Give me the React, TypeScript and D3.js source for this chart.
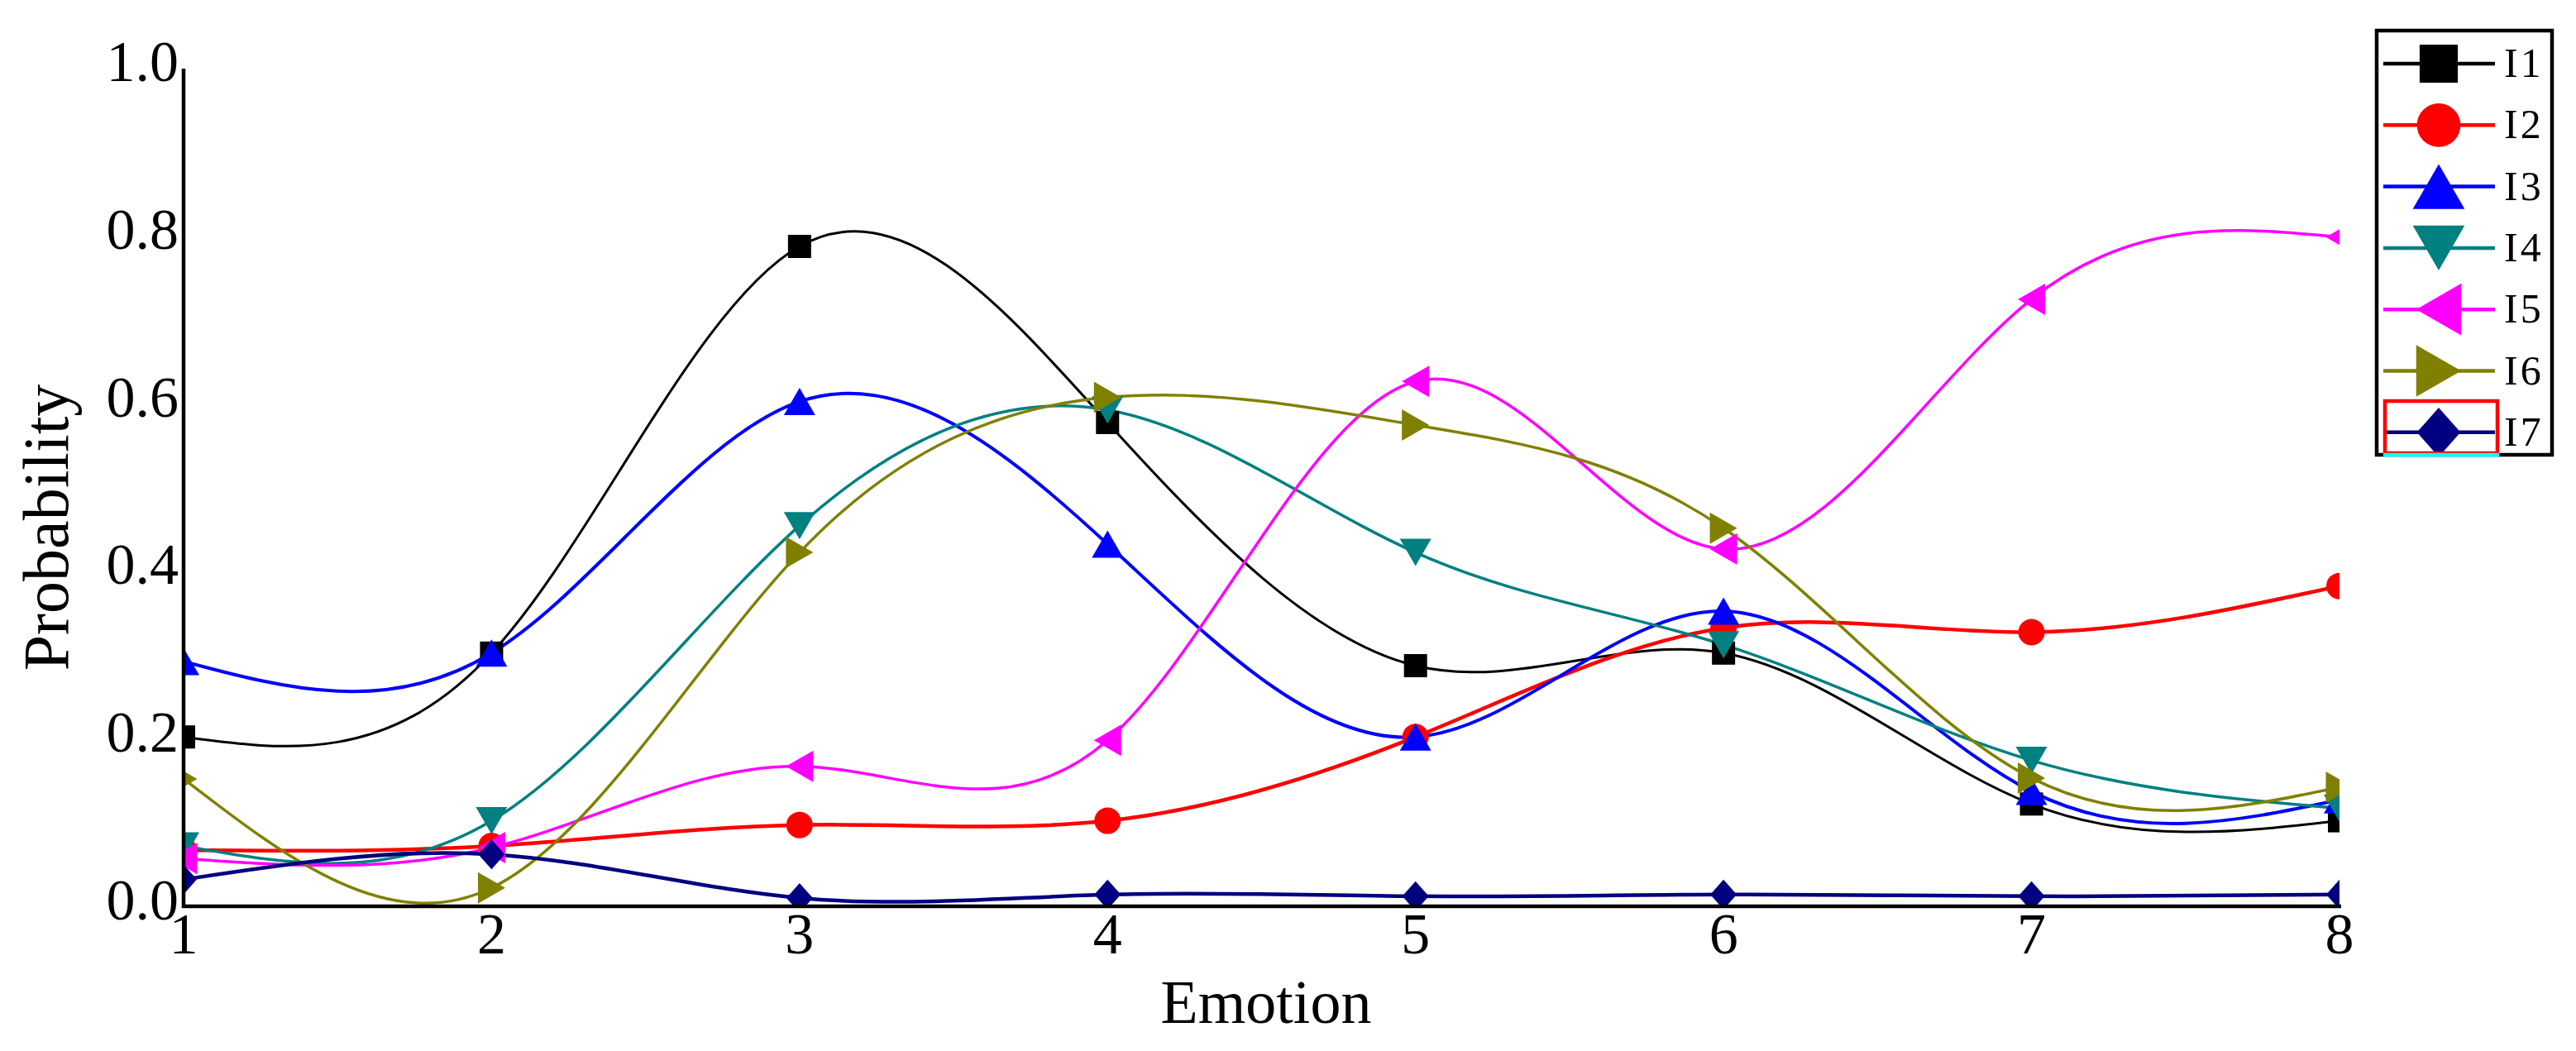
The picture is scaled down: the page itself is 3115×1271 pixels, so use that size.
import * as d3 from 'd3';
import React, { useRef, useEffect } from 'react';

// emotion index on the x axis
const emotions = [1, 2, 3, 4, 5, 6, 7, 8];
const yTicks = [0, 0.2, 0.4, 0.6, 0.8, 1.0];

const seriesNames = ['I1', 'I2', 'I3', 'I4', 'I5', 'I6', 'I7'];
const I1 = [0.20, 0.30, 0.785, 0.575, 0.285, 0.30, 0.12, 0.10];
const I2 = [0.065, 0.07, 0.095, 0.10, 0.20, 0.33, 0.325, 0.38];
const I3 = [0.29, 0.30, 0.60, 0.43, 0.20, 0.35, 0.135, 0.125];
const I4 = [0.07, 0.10, 0.452, 0.59, 0.42, 0.31, 0.172, 0.115];
const I5 = [0.055, 0.068, 0.165, 0.196, 0.624, 0.424, 0.722, 0.796];
const I6 = [0.15, 0.02, 0.42, 0.605, 0.572, 0.449, 0.151, 0.14];
const I7 = [0.03, 0.06, 0.008, 0.012, 0.01, 0.012, 0.01, 0.012];

const colors = ['#000000', '#ff0000', '#0000ff', '#008080', '#ff00ff', '#808000', '#000080'];
const shapes = ['square', 'circle', 'up', 'down', 'left', 'right', 'diamond'];
const widths = [3, 4.5, 4, 3.5, 3.5, 3.5, 4.5];

function markerPath(shape, k) {
    if (shape === 'square') {
        const s = 14 * k;
        return `M${-s},${-s}H${s}V${s}H${-s}Z`;
    }
    if (shape === 'circle') {
        const r = 16 * k;
        return `M${-r},0A${r},${r} 0 1,0 ${r},0A${r},${r} 0 1,0 ${-r},0Z`;
    }
    if (shape === 'diamond') {
        const w = 16 * k, h = 18 * k;
        return `M0,${-h}L${w},0L0,${h}L${-w},0Z`;
    }
    const w = 19 * k, h = 16.5 * k;
    if (shape === 'up') return `M0,${-h}L${w},${h}L${-w},${h}Z`;
    if (shape === 'down') return `M0,${h}L${w},${-h}L${-w},${-h}Z`;
    if (shape === 'left') return `M${-h},0L${h},${-w}L${h},${w}Z`;
    return `M${h},0L${-h},${-w}L${-h},${w}Z`;
}

function Chart({ width, height }) {
    const ref = useRef();

    useEffect(() => {
        const svg = d3.select(ref.current);
        svg.selectAll('*').remove();

        const data = [I1, I2, I3, I4, I5, I6, I7];
        const left = 222, right = 2829, top = 80, bottom = 1094;

        const x = d3.scaleLinear().domain([1, 8]).range([left, right]);
        const y = d3.scaleLinear().domain([0, 1]).range([bottom, top]);

        svg.append('rect').attr('width', width).attr('height', height).attr('fill', 'white');

        svg.append('defs').append('clipPath').attr('id', 'plotclip')
            .append('rect')
            .attr('x', left).attr('y', top - 40)
            .attr('width', right - left).attr('height', bottom - top + 40);

        const plot = svg.append('g').attr('clip-path', 'url(#plotclip)');

        const line = d3.line()
            .x((d, i) => x(emotions[i]))
            .y(d => y(d))
            .curve(d3.curveNatural);

        data.forEach((vals, si) => {
            plot.append('path')
                .attr('d', line(vals))
                .attr('fill', 'none')
                .attr('stroke', colors[si])
                .attr('stroke-width', widths[si]);
        });

        data.forEach((vals, si) => {
            plot.selectAll(null)
                .data(vals)
                .enter()
                .append('path')
                .attr('transform', (d, i) => `translate(${x(emotions[i])},${y(d)})`)
                .attr('d', markerPath(shapes[si], 1))
                .attr('fill', colors[si]);
        });

        // axes
        svg.append('line')
            .attr('x1', left).attr('x2', left)
            .attr('y1', top + 3).attr('y2', bottom + 4)
            .attr('stroke', 'black').attr('stroke-width', 4.5);
        svg.append('line')
            .attr('x1', left - 2).attr('x2', right + 2)
            .attr('y1', bottom + 2).attr('y2', bottom + 2)
            .attr('stroke', 'black').attr('stroke-width', 4.5);

        const font = "'Liberation Serif', 'Times New Roman', serif";

        svg.selectAll('.ytick')
            .data(yTicks)
            .enter()
            .append('text')
            .attr('x', left - 6)
            .attr('y', d => y(d) + 18)
            .attr('text-anchor', 'end')
            .style('font-family', font)
            .style('font-size', '70px')
            .text(d => d3.format('.1f')(d));

        svg.selectAll('.xtick')
            .data(emotions)
            .enter()
            .append('text')
            .attr('x', d => x(d))
            .attr('y', 1153)
            .attr('text-anchor', 'middle')
            .style('font-family', font)
            .style('font-size', '70px')
            .text(d => d);

        svg.append('text')
            .attr('x', 1531)
            .attr('y', 1237)
            .attr('text-anchor', 'middle')
            .style('font-family', font)
            .style('font-size', '74px')
            .text('Emotion');

        svg.append('text')
            .attr('transform', 'translate(82,638) rotate(-90)')
            .attr('text-anchor', 'middle')
            .style('font-family', font)
            .style('font-size', '78px')
            .text('Probability');

        // legend
        const lg = svg.append('g');
        lg.append('rect')
            .attr('x', 2874).attr('y', 37)
            .attr('width', 212).attr('height', 513)
            .attr('fill', 'white')
            .attr('stroke', 'black').attr('stroke-width', 4.5);

        seriesNames.forEach((name, si) => {
            const cy = 77 + si * 74.3;
            lg.append('line')
                .attr('x1', 2882).attr('x2', 3017)
                .attr('y1', cy).attr('y2', cy)
                .attr('stroke', colors[si]).attr('stroke-width', 4.5);
            lg.append('path')
                .attr('transform', `translate(2949,${cy})`)
                .attr('d', markerPath(shapes[si], 1.65))
                .attr('fill', colors[si]);
            lg.append('text')
                .attr('x', 3028).attr('y', cy + 16)
                .style('font-family', font)
                .style('font-size', '50px')
                .style('letter-spacing', '3px')
                .text(name);
        });

        // selection frame around last legend entry
        lg.append('rect')
            .attr('x', 2884).attr('y', 485)
            .attr('width', 136).attr('height', 63)
            .attr('fill', 'none')
            .attr('stroke', '#ff0000').attr('stroke-width', 4.5);
        lg.append('line')
            .attr('x1', 2882).attr('x2', 3022)
            .attr('y1', 550).attr('y2', 550)
            .attr('stroke', '#00ffff').attr('stroke-width', 4.5);
    }, []);

    return (
        <svg ref={ref} width={width} height={height}
            style={{ position: 'absolute', left: 0, top: 0, display: 'block' }}>
        </svg>
    );
}

export default function App() {
    return <Chart width={3115} height={1271} />;
}
